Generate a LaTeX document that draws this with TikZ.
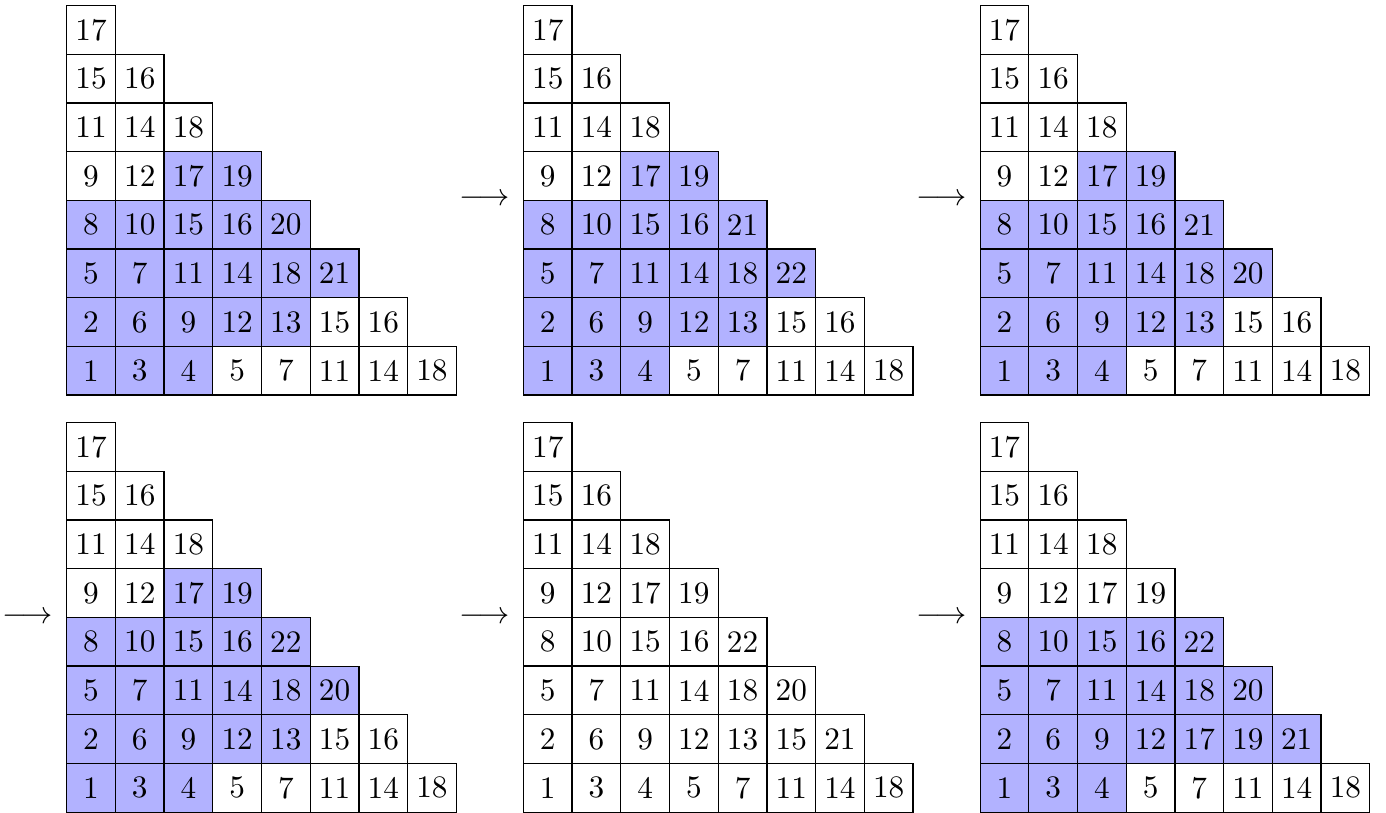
\documentclass[tikz,border=0pt]{standalone}
\begin{document}
\begin{tikzpicture}[x=0.32pt,y=-0.32pt,
  cell/.style={draw=black,line width=0.4pt,minimum size=15.58pt,inner sep=0pt,font=\fontsize{10}{12}\selectfont},
  shaded/.style={fill=blue!30},
  arr/.style={inner sep=0pt,font=\fontsize{10}{12}\selectfont}]
\useasboundingbox (0,0) rectangle (1386,812);
% tableau drawing: \tabl{name}{ox}{oy}{rows}
\newcommand\tabl[4]{%
  \foreach \r/\ent/\sa/\sb in {#4}{%
    \foreach \e [count=\c from 0] in \ent {%
      \pgfmathtruncatemacro\sh{(\c>=\sa)&&(\c<\sb)}%
      \ifnum\sh=1
        \node[cell,shaded] (#1-\r-\c) at ({#2+(\c+0.5)*48.7},{#3+(7-\r+0.5)*48.7}) {\e};
      \else
        \node[cell] (#1-\r-\c) at ({#2+(\c+0.5)*48.7},{#3+(7-\r+0.5)*48.7}) {\e};
      \fi
    }%
  }%
}
\tabl{ta}{66.7}{5.5}{0/{1,3,4,5,7,11,14,18}/0/3, 1/{2,6,9,12,13,15,16}/0/5, 2/{5,7,11,14,18,21}/0/6, 3/{8,10,15,16,20}/0/5, 4/{9,12,17,19}/2/4, 5/{11,14,18}/0/0, 6/{15,16}/0/0, 7/{17}/0/0}
\tabl{tb}{523.4}{5.5}{0/{1,3,4,5,7,11,14,18}/0/3, 1/{2,6,9,12,13,15,16}/0/5, 2/{5,7,11,14,18,22}/0/6, 3/{8,10,15,16,21}/0/5, 4/{9,12,17,19}/2/4, 5/{11,14,18}/0/0, 6/{15,16}/0/0, 7/{17}/0/0}
\tabl{tc}{980.1}{5.5}{0/{1,3,4,5,7,11,14,18}/0/3, 1/{2,6,9,12,13,15,16}/0/5, 2/{5,7,11,14,18,20}/0/6, 3/{8,10,15,16,21}/0/5, 4/{9,12,17,19}/2/4, 5/{11,14,18}/0/0, 6/{15,16}/0/0, 7/{17}/0/0}
\tabl{td}{66.7}{422.6}{0/{1,3,4,5,7,11,14,18}/0/3, 1/{2,6,9,12,13,15,16}/0/5, 2/{5,7,11,14,18,20}/0/6, 3/{8,10,15,16,22}/0/5, 4/{9,12,17,19}/2/4, 5/{11,14,18}/0/0, 6/{15,16}/0/0, 7/{17}/0/0}
\tabl{te}{523.4}{422.6}{0/{1,3,4,5,7,11,14,18}/0/0, 1/{2,6,9,12,13,15,21}/0/0, 2/{5,7,11,14,18,20}/0/0, 3/{8,10,15,16,22}/0/0, 4/{9,12,17,19}/0/0, 5/{11,14,18}/0/0, 6/{15,16}/0/0, 7/{17}/0/0}
\tabl{tf}{980.1}{422.6}{0/{1,3,4,5,7,11,14,18}/0/3, 1/{2,6,9,12,17,19,21}/0/7, 2/{5,7,11,14,18,20}/0/6, 3/{8,10,15,16,22}/0/5, 4/{9,12,17,19}/0/0, 5/{11,14,18}/0/0, 6/{15,16}/0/0, 7/{17}/0/0}
% arrows
\node[arr] (a1) at (484.5,200) {$\longrightarrow$};
\node[arr] (a2) at (941.2,200) {$\longrightarrow$};
\node[arr] (a3) at (27.5,617.5) {$\longrightarrow$};
\node[arr] (a4) at (484.5,617.5) {$\longrightarrow$};
\node[arr] (a5) at (941.2,617.5) {$\longrightarrow$};
\end{tikzpicture}
\end{document}
